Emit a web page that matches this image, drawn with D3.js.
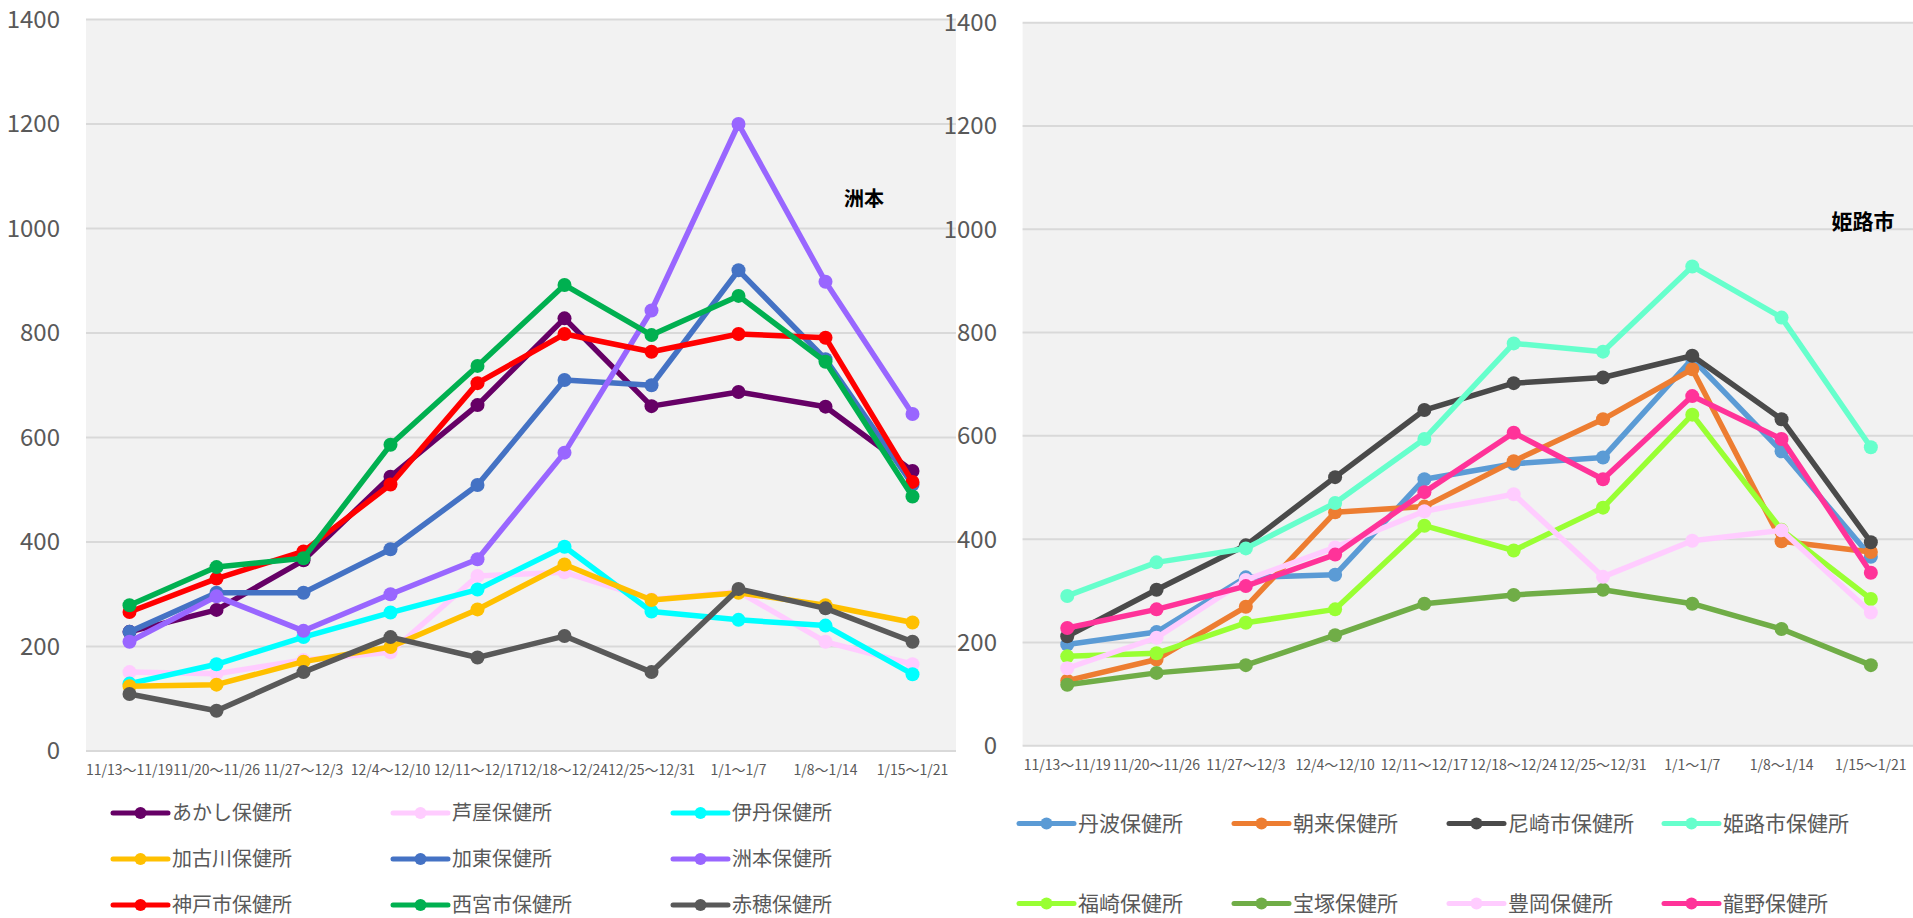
<!DOCTYPE html>
<html><head><meta charset="utf-8">
<script src="https://cdn.jsdelivr.net/npm/d3@7"></script>
<style>
html,body{margin:0;padding:0;background:#fff;}
svg{display:block;font-family:"Noto Sans CJK JP","Noto Sans",sans-serif;}
</style></head>
<body>
<svg id="c" width="1913" height="918"></svg>
<script>
const weeks = ["11/13～11/19","11/20～11/26","11/27～12/3","12/4～12/10","12/11～12/17","12/18～12/24","12/25～12/31","1/1～1/7","1/8～1/14","1/15～1/21"];
const yTicks = [0,200,400,600,800,1000,1200,1400];

// left panel
const leftNames = ["あかし保健所","芦屋保健所","伊丹保健所","加古川保健所","加東保健所","洲本保健所","神戸市保健所","西宮市保健所","赤穂保健所"];
const leftColors = ["#660066","#ffccff","#00ffff","#ffc000","#4472c4","#9966ff","#ff0000","#00b050","#595959"];
const akashi   = [228,270,365,525,662,828,660,687,659,536];
const ashiya    = [151,148,174,189,335,342,290,305,209,166];
const itami     = [129,166,218,265,309,391,267,251,240,147];
const kakogawa  = [124,127,171,199,271,357,289,303,279,246];
const kato      = [228,303,303,386,509,710,700,920,750,510];
const sumoto    = [209,296,230,300,367,571,843,1200,898,645];
const kobe      = [266,330,382,510,704,798,764,798,791,515];
const nishinomiya=[279,352,369,586,737,892,796,871,745,487];
const ako       = [109,77,151,218,179,220,151,310,273,209];
const leftSeries = [akashi,ashiya,itami,kakogawa,kato,sumoto,kobe,nishinomiya,ako];

// right panel
const rightNames = ["丹波保健所","朝来保健所","尼崎市保健所","姫路市保健所","福崎保健所","宝塚保健所","豊岡保健所","龍野保健所"];
const rightColors = ["#5b9bd5","#ed7d31","#4a4a4a","#66ffcc","#99ff33","#70ad47","#ffccff","#ff3399"];
const tamba     = [196,220,326,331,516,546,558,749,570,366];
const asago     = [126,167,269,452,463,551,632,729,396,375];
const amagasaki = [212,302,388,520,650,702,713,755,632,394];
const himeji    = [290,355,382,470,594,779,763,928,829,578];
const fukusaki  = [173,179,238,264,426,378,461,641,418,284];
const takarazuka= [118,141,156,214,275,292,302,275,226,156];
const toyooka   = [150,209,321,384,454,487,327,397,417,258];
const tatsuno   = [228,264,309,370,491,606,516,677,594,335];
const rightSeries = [tamba,asago,amagasaki,himeji,fukusaki,takarazuka,toyooka,tatsuno];

const svg = d3.select("#c");

function panel(cfg){
  const x = d3.scaleBand().domain(weeks).range([cfg.x0, cfg.x1]);
  const y = d3.scaleLinear().domain([0,1400]).range([cfg.y0, cfg.y1]);
  const g = svg.append("g");
  g.append("rect").attr("x",cfg.x0).attr("y",cfg.y1).attr("width",cfg.x1-cfg.x0).attr("height",cfg.y0-cfg.y1).attr("fill","#f2f2f2");
  g.selectAll("line.grid").data(yTicks).join("line")
    .attr("x1",cfg.x0).attr("x2",cfg.x1).attr("y1",d=>y(d)).attr("y2",d=>y(d))
    .attr("stroke","#d9d9d9").attr("stroke-width",2);
  g.selectAll("text.yl").data(yTicks).join("text")
    .attr("x",cfg.labelX).attr("y",d=>y(d)).attr("dy","0.35em").attr("text-anchor","end")
    .attr("font-size",24).attr("fill","#595959").text(d=>d);
  g.selectAll("text.xl").data(weeks).join("text")
    .attr("x",d=>x(d)+x.bandwidth()/2).attr("y",cfg.xLabelY).attr("dy","0.35em").attr("text-anchor","middle")
    .attr("font-size",14).attr("fill","#595959").text(d=>d);
  const line = d3.line().x((d,i)=>x(weeks[i])+x.bandwidth()/2).y(d=>y(d));
  cfg.series.forEach((s,k)=>{
    const sg = g.append("g");
    sg.append("path").attr("d",line(s)).attr("fill","none").attr("stroke",cfg.colors[k]).attr("stroke-width",5.5).attr("stroke-linejoin","round");
    sg.selectAll("circle").data(s).join("circle")
      .attr("cx",(d,i)=>x(weeks[i])+x.bandwidth()/2).attr("cy",d=>y(d)).attr("r",7).attr("fill",cfg.colors[k]);
  });
  // legend
  cfg.names.forEach((n,k)=>{
    const col = k % cfg.legCols, row = Math.floor(k/cfg.legCols);
    const lx = cfg.legX + col*cfg.legDX, ly = cfg.legY + row*cfg.legDY;
    svg.append("line").attr("x1",lx).attr("x2",lx+55).attr("y1",ly).attr("y2",ly).attr("stroke",cfg.colors[k]).attr("stroke-width",5).attr("stroke-linecap","round");
    svg.append("circle").attr("cx",lx+27.5).attr("cy",ly).attr("r",6).attr("fill",cfg.colors[k]);
    svg.append("text").attr("x",lx+59).attr("y",ly).attr("dy","0.35em").attr("font-size",cfg.legSize).attr("fill","#595959").text(n);
  });
  svg.append("text").attr("x",cfg.annX).attr("y",cfg.annY).attr("text-anchor","middle").attr("font-size",cfg.annSize).attr("font-weight","bold").attr("fill","#000").text(cfg.ann);
}

panel({x0:86,x1:956,y0:751,y1:19.5,labelX:60,xLabelY:770,series:leftSeries,colors:leftColors,names:leftNames,
  legX:113,legY:813,legCols:3,legDX:280,legDY:46,legSize:20,ann:"洲本",annX:864,annY:206,annSize:20});
panel({x0:1022.6,x1:1915.5,y0:745.7,y1:22.7,labelX:997,xLabelY:765,series:rightSeries,colors:rightColors,names:rightNames,
  legX:1019,legY:823.5,legCols:4,legDX:215,legDY:80,legSize:21,ann:"姫路市",annX:1863,annY:229,annSize:21});
</script>
</body></html>
